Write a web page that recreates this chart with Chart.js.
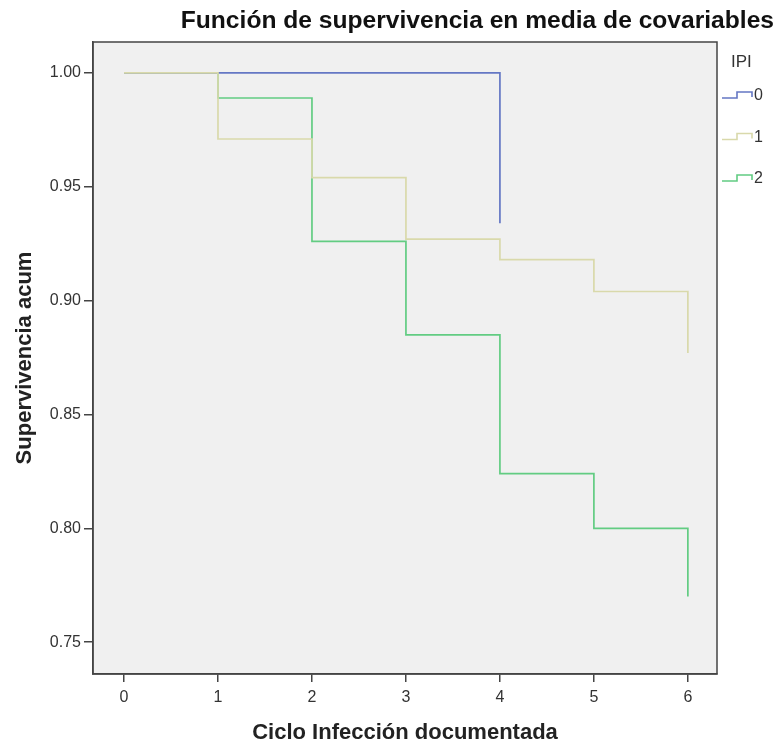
<!DOCTYPE html>
<html>
<head>
<meta charset="utf-8">
<script src="https://cdn.jsdelivr.net/npm/chart.js@4.4.1/dist/chart.umd.min.js"></script>
<style>
  html, body { margin: 0; padding: 0; background: #fff; }
</style>
</head>
<body>
<canvas id="survChart" width="777" height="744"></canvas>
<script>
// Survival at the mean of covariates, by IPI group
const cycles = [0, 1, 2, 3, 4, 5, 6];
const ipi0 = [1.000, 1.000, 1.000, 1.000, 0.934];
const ipi1 = [1.000, 0.971, 0.954, 0.927, 0.918, 0.904, 0.877];
const ipi2 = [1.000, 0.989, 0.926, 0.885, 0.824, 0.800, 0.770];
const groupNames = ["0", "1", "2"];
const groupColors = ["#6477c4", "#d9d9ab", "#62cc82"];
const xTicks = [0, 1, 2, 3, 4, 5, 6];
const yTicks = [0.75, 0.80, 0.85, 0.90, 0.95, 1.00];

const FONT = "'Liberation Sans', Arial, sans-serif";
const AXIS = "#444";

const toPoints = ys => ys.map((y, i) => ({ x: cycles[i], y: y }));

// gray plot panel + closed frame
const panel = {
  id: "panel",
  beforeDraw(chart) {
    const { ctx, chartArea: a } = chart;
    ctx.save();
    ctx.fillStyle = "#f0f0f0";
    ctx.fillRect(a.left, a.top, a.right - a.left, a.bottom - a.top);
    ctx.restore();
  },
  afterDraw(chart) {
    const { ctx, chartArea: a } = chart;
    ctx.save();
    ctx.strokeStyle = AXIS;
    ctx.lineWidth = 1.5;
    ctx.strokeRect(a.left, a.top, a.right - a.left, a.bottom - a.top);
    ctx.restore();
  }
};

// title and step-style legend
const headings = {
  id: "headings",
  afterDraw(chart) {
    const { ctx } = chart;
    ctx.save();
    ctx.fillStyle = "#111";
    ctx.font = "bold 24.6px " + FONT;
    ctx.textAlign = "right";
    ctx.textBaseline = "middle";
    ctx.fillText("Función de supervivencia en media de covariables", 774, 21);

    ctx.textAlign = "left";
    ctx.fillStyle = "#333";
    ctx.font = "17px " + FONT;
    ctx.fillText("IPI", 731, 62);
    ctx.font = "16px " + FONT;
    groupNames.forEach((name, i) => {
      const y = 95 + i * 41.5;
      ctx.strokeStyle = groupColors[i];
      ctx.lineWidth = 1.6;
      ctx.beginPath();
      ctx.moveTo(722, y + 3);
      ctx.lineTo(737, y + 3);
      ctx.lineTo(737, y - 3);
      ctx.lineTo(752, y - 3);
      ctx.lineTo(752, y + 2);
      ctx.stroke();
      ctx.fillStyle = "#333";
      ctx.fillText(name, 754, y + 1);
    });
    ctx.restore();
  }
};

new Chart(document.getElementById("survChart"), {
  type: "line",
  data: {
    datasets: [
      { label: groupNames[0], data: toPoints(ipi0), borderColor: groupColors[0], order: 1 },
      { label: groupNames[1], data: toPoints(ipi1), borderColor: groupColors[1], order: 0 },
      { label: groupNames[2], data: toPoints(ipi2), borderColor: groupColors[2], order: 2 }
    ]
  },
  options: {
    responsive: false,
    animation: false,
    layout: { padding: { top: 42, right: 60, left: 0, bottom: 0 } },
    elements: {
      line: { stepped: "before", borderWidth: 1.7, fill: false, tension: 0 },
      point: { radius: 0, hoverRadius: 0 }
    },
    plugins: {
      legend: { display: false },
      title: { display: false },
      tooltip: { enabled: false }
    },
    scales: {
      x: {
        type: "linear",
        min: -0.33,
        max: 6.31,
        afterBuildTicks: s => { s.ticks = xTicks.map(v => ({ value: v })); },
        afterFit: s => { s.height = 70; },
        border: { display: true, color: AXIS, width: 1.5 },
        grid: { drawOnChartArea: false, drawTicks: true, tickLength: 8, color: AXIS, lineWidth: 1.5 },
        ticks: { color: "#333", padding: 6, font: { family: FONT, size: 16 }, callback: v => String(v) },
        title: {
          display: true,
          text: "Ciclo Infección documentada",
          color: "#222",
          font: { family: FONT, size: 22, weight: "bold" },
          padding: { top: 0, bottom: -2 }
        }
      },
      y: {
        type: "linear",
        min: 0.736,
        max: 1.0136,
        afterBuildTicks: s => { s.ticks = yTicks.map(v => ({ value: v })); },
        afterFit: s => { s.width = 93; },
        border: { display: true, color: AXIS, width: 1.5 },
        grid: { drawOnChartArea: false, drawTicks: true, tickLength: 9, color: AXIS, lineWidth: 1.5 },
        ticks: { color: "#333", padding: 3, font: { family: FONT, size: 16 }, callback: v => v.toFixed(2) },
        title: {
          display: true,
          text: "Supervivencia acum",
          color: "#222",
          font: { family: FONT, size: 22, weight: "bold" },
          padding: { top: 12, bottom: 0 }
        }
      }
    }
  },
  plugins: [panel, headings]
});
</script>
</body>
</html>
